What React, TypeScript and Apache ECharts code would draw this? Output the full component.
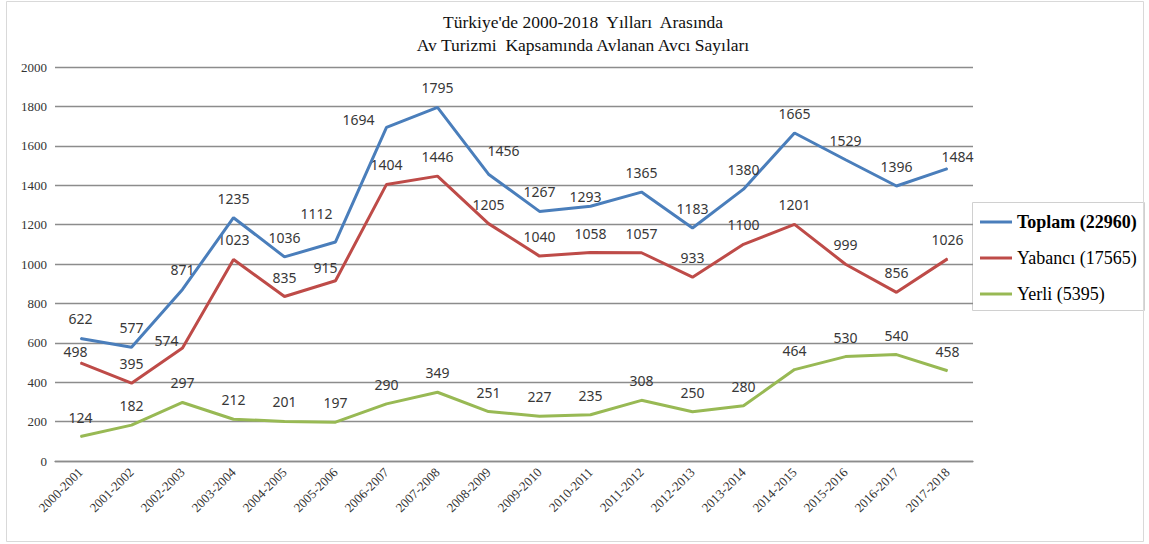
import React, { useEffect, useRef } from "react";
import * as echarts from "echarts";

const categories = [
  "2000-2001", "2001-2002", "2002-2003", "2003-2004", "2004-2005", "2005-2006",
  "2006-2007", "2007-2008", "2008-2009", "2009-2010", "2010-2011", "2011-2012",
  "2012-2013", "2013-2014", "2014-2015", "2015-2016", "2016-2017", "2017-2018",
];
const toplam = [622, 577, 871, 1235, 1036, 1112, 1694, 1795, 1456, 1267, 1293, 1365, 1183, 1380, 1665, 1529, 1396, 1484];
const yabanci = [498, 395, 574, 1023, 835, 915, 1404, 1446, 1205, 1040, 1058, 1057, 933, 1100, 1201, 999, 856, 1026];
const yerli = [124, 182, 297, 212, 201, 197, 290, 349, 251, 227, 235, 308, 250, 280, 464, 530, 540, 458];
const seriesNames = ["Toplam (22960)", "Yabancı (17565)", "Yerli (5395)"];
const titleLines = ["Türkiye'de 2000-2018  Yılları  Arasında", "Av Turizmi  Kapsamında Avlanan Avcı Sayıları"];
const yTicks = { min: 0, max: 2000, interval: 200 };

// label nudges (pixels), keyed by series index -> point index
const labelOffsets: Record<number, Record<number, [number, number]>> = {
  0: { 5: [-19, -9], 6: [-28, 12], 8: [15, -4], 10: [-5, 10], 17: [10, 7] },
  1: { 0: [-5, 8], 2: [-16, 12], 5: [-10, 6] },
  2: {},
};

const colors = ["#4a7ebb", "#be4b48", "#98b954"];
const serif = "'Liberation Serif', 'Times New Roman', serif";

export default function App() {
  const ref = useRef<HTMLDivElement>(null);
  useEffect(() => {
    if (!ref.current) return;
    const chart = echarts.init(ref.current, undefined, { renderer: "svg" });
    const all = [toplam, yabanci, yerli];
    const series = all.map((arr, si) => ({
      name: seriesNames[si],
      type: "line",
      data: arr.map((v, i) => {
        const off = labelOffsets[si][i];
        return off ? { value: v, label: { offset: off } } : v;
      }),
      symbol: "circle",
      symbolSize: 1,
      lineStyle: { width: 3, color: colors[si] },
      itemStyle: { color: colors[si] },
      label: {
        show: true,
        position: "top",
        distance: 12,
        fontFamily: "'Noto Sans', sans-serif",
        fontSize: 14,
        lineHeight: 14,
        color: "#383838",
      },
      z: 3 - si,
    }));
    chart.setOption({
      animation: false,
      grid: { left: 55, right: 176, top: 67, bottom: 83, containLabel: false },
      xAxis: {
        type: "category",
        data: categories,
        boundaryGap: true,
        axisLine: { show: true, lineStyle: { color: "#8c8c8c", width: 1.3 } },
        axisTick: { show: false },
        axisLabel: {
          interval: 0,
          rotate: 45,
          margin: 9,
          fontFamily: serif,
          fontSize: 13,
          color: "#333",
        },
      },
      yAxis: {
        type: "value",
        min: yTicks.min,
        max: yTicks.max,
        interval: yTicks.interval,
        axisLine: { show: false },
        axisTick: { show: false },
        splitLine: { lineStyle: { color: "#8c8c8c", width: 1.3 } },
        axisLabel: {
          margin: 8,
          fontFamily: serif,
          fontSize: 13,
          color: "#333",
          formatter: (v: number) => String(v),
        },
      },
      legend: {
        orient: "vertical",
        left: 980,
        top: 212,
        padding: 0,
        itemWidth: 32,
        itemHeight: 3,
        itemGap: 16,
        icon: "rect",
        data: seriesNames,
        formatter: (name: string) =>
          name === seriesNames[0] ? "{b|" + name + "}" : "{n|" + name + "}",
        textStyle: {
          fontFamily: serif,
          fontSize: 18,
          color: "#000",
          lineHeight: 20,
          rich: {
            b: { fontFamily: serif, fontSize: 18, fontWeight: "bold", color: "#000" },
            n: { fontFamily: serif, fontSize: 18, color: "#000" },
          },
        },
      },
      graphic: [
        {
          type: "rect",
          shape: { x: 6.5, y: 1.5, width: 1137, height: 540 },
          style: { fill: "none", stroke: "#d9d9d9", lineWidth: 1 },
          silent: true,
        },
        {
          type: "rect",
          shape: { x: 972.5, y: 202.5, width: 172, height: 108 },
          style: { fill: "#fff", stroke: "#d0d0d0", lineWidth: 1 },
          z: -1,
          silent: true,
        },
        {
          type: "text",
          x: 583,
          y: 10,
          style: {
            text: titleLines.join("\n"),
            fill: "#111",
            font: "17.5px " + serif,
            textAlign: "center",
            textVerticalAlign: "top",
            lineHeight: 23,
          },
          silent: true,
        },
      ],
      series,
    });
    return () => chart.dispose();
  }, []);
  return (
    <div
      ref={ref}
      style={{ position: "fixed", left: 0, top: 0, width: 1149, height: 544, background: "#fff" }}
    />
  );
}
